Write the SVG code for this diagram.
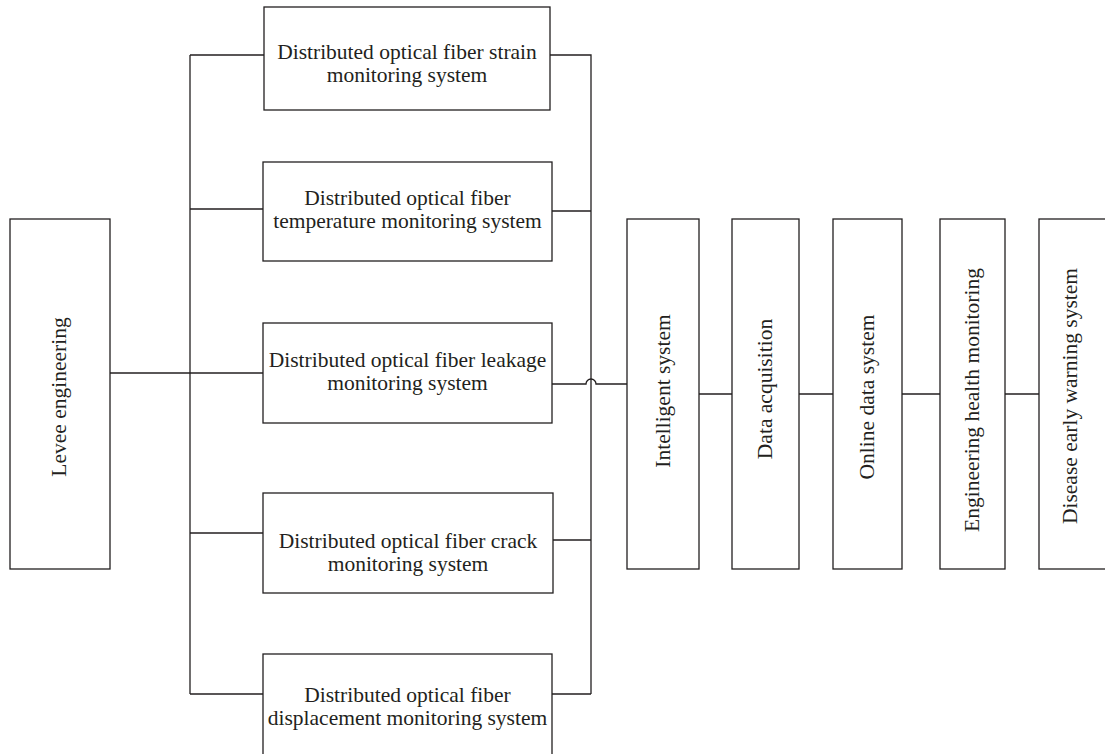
<svg xmlns="http://www.w3.org/2000/svg" width="1105" height="754" viewBox="0 0 1105 754">
<style>
.box{fill:#fff;stroke:#231f20;stroke-width:1.3}
.ln{fill:none;stroke:#231f20;stroke-width:1.3}
text{font-family:"Liberation Serif","Times New Roman",serif;font-size:21.5px;fill:#231f20;text-anchor:middle}
</style>
<rect width="1105" height="754" fill="#fff"/>
<g id="connectors">
<path class="ln" d="M110 373H263"/>
<path class="ln" d="M190 55V694"/>
<path class="ln" d="M190 55H264M190 209H263M190 533H263M190 694H263"/>
<path class="ln" d="M550 55H591V694M552 211H591M553 540H591M552 694H591"/>
<path class="ln" d="M552 384H586A5 5 0 0 1 596 384H627"/>
<path class="ln" d="M699 394H732M799 394H833M902 394H940M1005 394H1039"/>
</g>
<g id="levee">
<rect class="box" x="10" y="219" width="100" height="350"/>
<text transform="translate(66 397) rotate(-90)">Levee engineering</text>
</g>
<g id="strain">
<rect class="box" x="264" y="7" width="286" height="103"/>
<text x="407" y="59">Distributed optical fiber strain</text>
<text x="407" y="82">monitoring system</text>
</g>
<g id="temperature">
<rect class="box" x="263" y="162" width="289" height="99"/>
<text x="407.5" y="205">Distributed optical fiber</text>
<text x="407.5" y="228">temperature monitoring system</text>
</g>
<g id="leakage">
<rect class="box" x="263" y="323" width="289" height="100"/>
<text x="407.5" y="367">Distributed optical fiber leakage</text>
<text x="407.5" y="390">monitoring system</text>
</g>
<g id="crack">
<rect class="box" x="263" y="493" width="290" height="100"/>
<text x="408" y="548">Distributed optical fiber crack</text>
<text x="408" y="571">monitoring system</text>
</g>
<g id="displacement">
<rect class="box" x="263" y="654" width="289" height="110"/>
<text x="407.5" y="702">Distributed optical fiber</text>
<text x="407.5" y="725">displacement monitoring system</text>
</g>
<g id="intelligent">
<rect class="box" x="627" y="219" width="72" height="350"/>
<text transform="translate(670 391) rotate(-90)">Intelligent system</text>
</g>
<g id="acquisition">
<rect class="box" x="732" y="219" width="67" height="350"/>
<text transform="translate(772 389) rotate(-90)">Data acquisition</text>
</g>
<g id="online">
<rect class="box" x="833" y="219" width="69" height="350"/>
<text transform="translate(874 397) rotate(-90)">Online data system</text>
</g>
<g id="health">
<rect class="box" x="940" y="219" width="65" height="350"/>
<text transform="translate(979 400) rotate(-90)">Engineering health monitoring</text>
</g>
<g id="warning">
<rect class="box" x="1039" y="219" width="80" height="350"/>
<text transform="translate(1077 396) rotate(-90)">Disease early warning system</text>
</g>
</svg>
